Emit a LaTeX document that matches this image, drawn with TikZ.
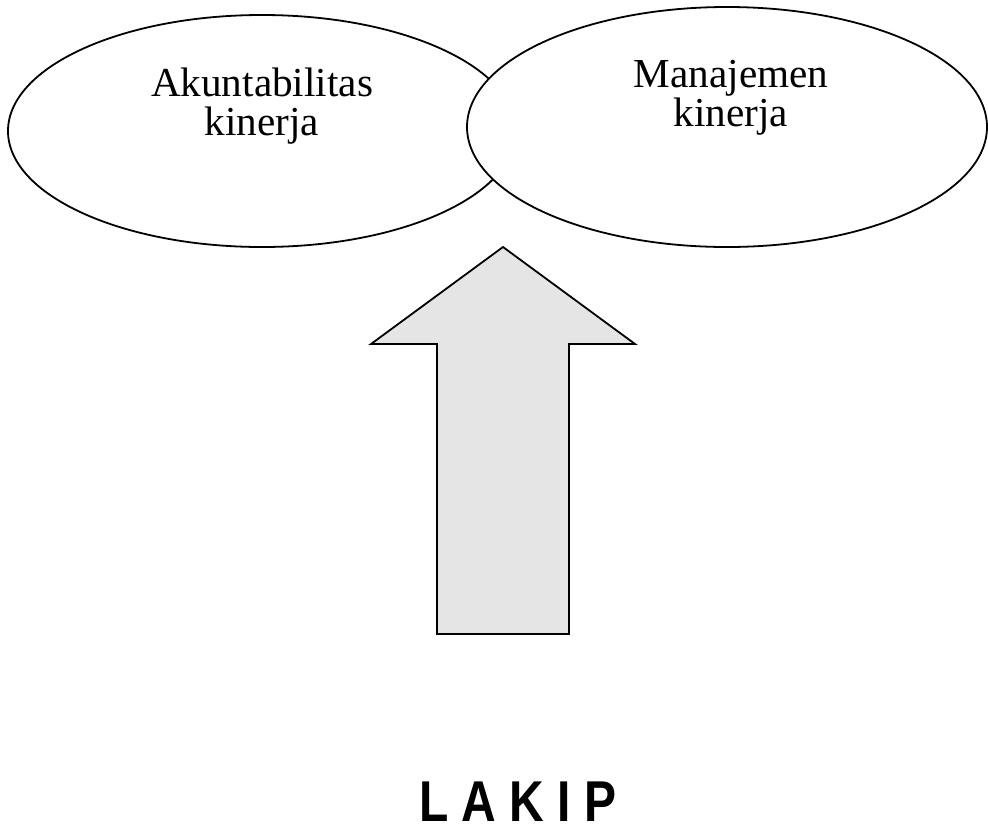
\documentclass[tikz,border=0pt]{standalone}
\usepackage{fontspec}
\setmainfont{Liberation Serif}
\newfontfamily\lakipfont{Liberation Sans}
\usetikzlibrary{shapes.geometric}
\begin{document}
\begin{tikzpicture}[x=1pt,y=-1pt,
  oval/.style={draw=black, line width=1.8pt, fill=white, ellipse, inner sep=0pt},
  label/.style={anchor=base, inner sep=0pt, font=\fontsize{41.2}{39}\selectfont},
  bigarrow/.style={draw=black, line width=1.8pt, fill=black!10, line join=miter}]
\useasboundingbox (0,0) rectangle (988,825);
% ellipses
\node[oval, minimum width=508pt, minimum height=232pt] (left) at (262,131) {};
\node[oval, minimum width=520pt, minimum height=240pt] (right) at (727,127) {};
% texts
\node[label] (l1) at (262,96) {Akuntabilitas};
\node[label] (l2) at (262,135) {kinerja};
\node[label] (r1) at (731,87) {Manajemen};
\node[label] (r2) at (731,126) {kinerja};
% arrow
\coordinate (tip) at (503,247);
\coordinate (hl) at (371,344);
\coordinate (hr) at (635,344);
\coordinate (sl) at (437,344);
\coordinate (sr) at (569,344);
\coordinate (bl) at (437,634);
\coordinate (br) at (569,634);
\draw[bigarrow] (tip) -- (hr) -- (sr) -- (br) -- (bl) -- (sl) -- (hl) -- cycle;
% LAKIP
\node[anchor=base, inner sep=0pt, font=\lakipfont\bfseries\fontsize{48}{56}\selectfont] (lakip) at (518,821) {\scalebox{1}[1.2]{L A K I P}};
\end{tikzpicture}
\end{document}
